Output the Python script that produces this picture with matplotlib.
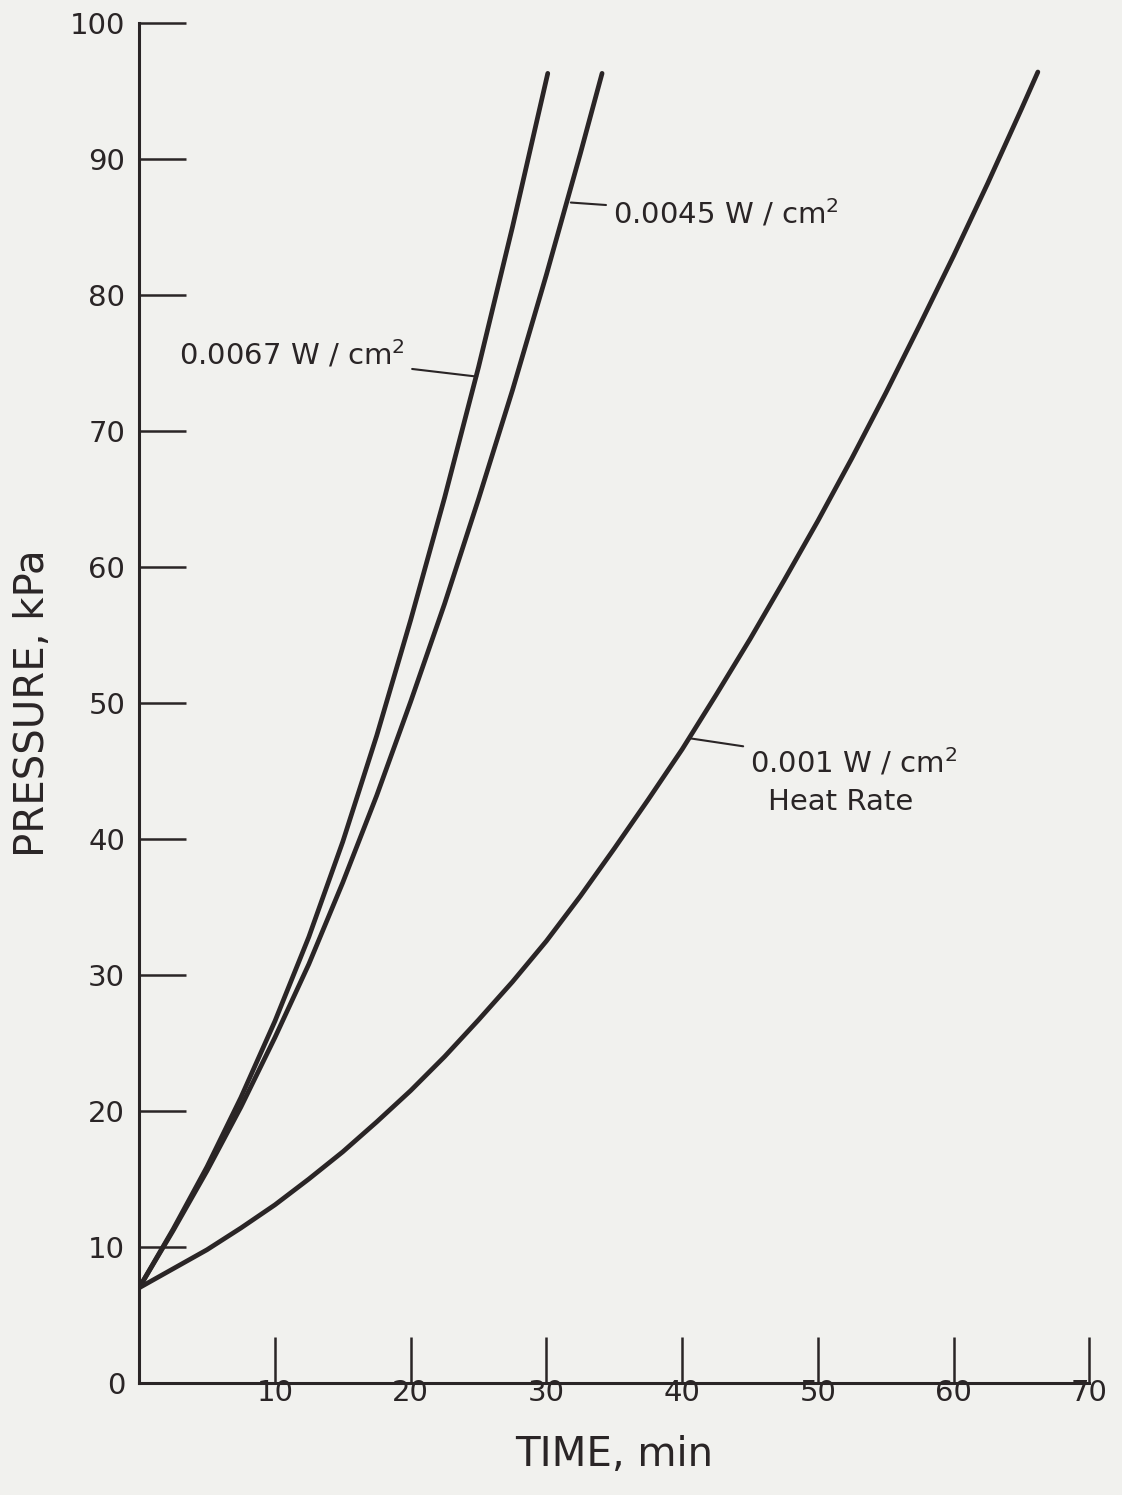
import matplotlib.pyplot as plt

# pressure rise vs time for three heat rates
t_0067 = [0, 2.5, 5, 7.5, 10, 12.5, 15, 17.5, 20, 22.5, 25, 27.5, 30.1]
p_0067 = [7, 11.3, 15.9, 21.0, 26.6, 32.8, 39.8, 47.6, 56.1, 65.1, 74.7, 85.0, 96.3]

t_0045 = [0, 2.5, 5, 7.5, 10, 12.5, 15, 17.5, 20, 22.5, 25, 27.5, 30, 32.5, 34.1]
p_0045 = [7, 11.2, 15.6, 20.3, 25.4, 30.8, 36.8, 43.2, 50.1, 57.3, 65.0, 73.0, 81.5, 90.4, 96.3]

t_0010 = [0, 2.5, 5, 7.5, 10, 12.5, 15, 17.5, 20, 22.5, 25, 27.5, 30, 32.5,
          35, 37.5, 40, 42.5, 45, 47.5, 50, 52.5, 55, 57.5, 60, 62.5, 65, 66.2]
p_0010 = [7, 8.4, 9.8, 11.4, 13.1, 15.0, 17.0, 19.2, 21.5, 24.0, 26.7, 29.5, 32.5, 35.8,
          39.3, 42.9, 46.6, 50.6, 54.7, 59.0, 63.4, 68.0, 72.8, 77.8, 82.9, 88.2, 93.7, 96.4]

x_ticks = [10, 20, 30, 40, 50, 60, 70]
y_ticks = [0, 10, 20, 30, 40, 50, 60, 70, 80, 90, 100]

ink = '#2a2526'
paper = '#f1f1ee'

plt.rcParams['font.family'] = ['DejaVu Sans']

fig = plt.figure(figsize=(11.22, 14.95), dpi=100, facecolor=paper)
ax = fig.add_axes([0.124, 0.0749, 0.847, 0.9097])
ax.set_facecolor(paper)

for t, p in [(t_0067, p_0067), (t_0045, p_0045), (t_0010, p_0010)]:
    ax.plot(t, p, color=ink, lw=3.4, solid_capstyle='round', solid_joinstyle='round')

ax.set_xlim(0, 70)
ax.set_ylim(0, 100)
ax.spines['top'].set_visible(False)
ax.spines['right'].set_visible(False)
for s in ['left', 'bottom']:
    ax.spines[s].set_linewidth(2.2)
    ax.spines[s].set_color(ink)

ax.set_xticks(x_ticks)
ax.set_yticks(y_ticks)
ax.tick_params(axis='x', direction='in', length=33, width=1.8, color=ink,
               labelsize=21, labelcolor=ink, pad=-3)
ax.tick_params(axis='y', direction='in', length=34, width=1.8, color=ink,
               labelsize=21, labelcolor=ink, pad=10)

ax.set_xlabel('TIME, min', fontsize=29, color=ink, labelpad=20)
ax.set_ylabel('PRESSURE, kPa', fontsize=29, color=ink, labelpad=12)

# curve labels with leader lines
lead = dict(arrowstyle='-', color=ink, lw=1.5, shrinkA=3, shrinkB=0)
ax.annotate('0.0067 W / cm$^2$', xy=(24.9, 74.0), xytext=(19.6, 75.6),
            fontsize=21, color=ink, ha='right', va='center', arrowprops=lead)
ax.annotate('0.0045 W / cm$^2$', xy=(31.8, 86.8), xytext=(34.9, 86.0),
            fontsize=21, color=ink, ha='left', va='center', arrowprops=lead)
ax.annotate('0.001 W / cm$^2$', xy=(40.6, 47.4), xytext=(45.0, 45.6),
            fontsize=21, color=ink, ha='left', va='center', arrowprops=lead)
ax.text(46.3, 42.7, 'Heat Rate', fontsize=21, color=ink, ha='left', va='center')

fig.savefig('out.png', dpi=100, facecolor=paper)
